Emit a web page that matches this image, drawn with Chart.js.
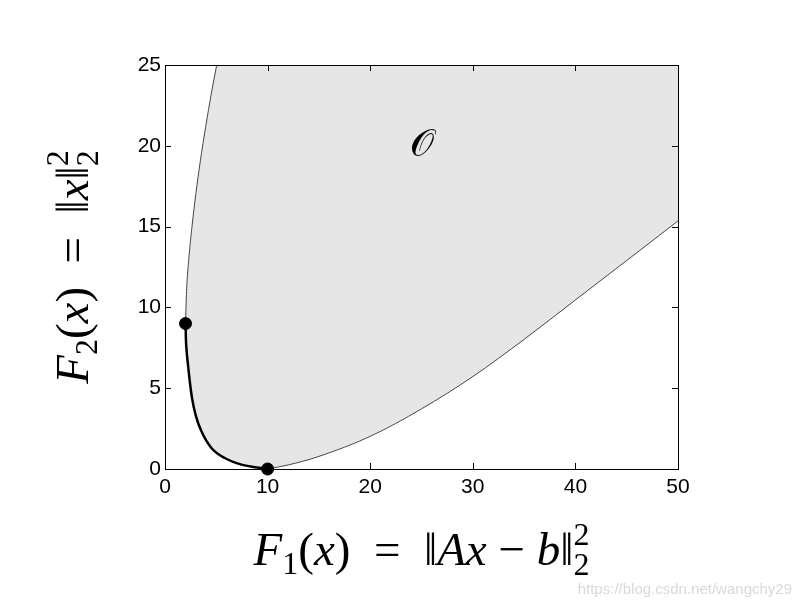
<!DOCTYPE html>
<html>
<head>
<meta charset="utf-8">
<script src="https://cdn.jsdelivr.net/npm/chart.js@4"></script>
<style>
  html, body { margin: 0; padding: 0; background: #fff; }
  #wrap { width: 800px; height: 607px; }
</style>
</head>
<body>
<div id="wrap"><canvas id="objChart"></canvas></div>
<script>
// left boundary of the objective set (top down to the first pareto point)
const leftX = [5.04, 4.52, 3.97, 3.43, 3.0, 2.63, 2.32, 2.1, 2.0];
const leftY = [25, 23.25, 21.2, 19, 17, 15, 13, 11, 9];

// pareto optimal curve
const paretoX = [2.0, 2.04, 2.12, 2.24, 2.42, 2.63, 3.0, 3.55, 4.52, 5.82, 7.45, 10];
const paretoY = [9, 8, 7.2, 6.45, 5.4, 4.4, 3.3, 2.33, 1.3, 0.68, 0.27, 0];

// lower boundary
const lowerX = [10, 12, 15, 20, 25, 30, 35, 40, 45, 50];
const lowerY = [0, 0.25, 0.78, 2.02, 3.72, 5.72, 8.02, 10.46, 12.9, 15.35];

// the two end points of the pareto curve
const endX = [2, 10];
const endY = [9, 0];

const xTicks = [0, 10, 20, 30, 40, 50];
const yTicks = [0, 5, 10, 15, 20, 25];

const setLabel = "\u{1D4AA}";
const setLabelAt = [25, 20];

function toPts(xs, ys) {
    return xs.map((x, i) => ({x: x, y: ys[i]}));
}

// closed region: left curve, pareto curve, lower curve, then top right corner
const regionPts = toPts(leftX, leftY)
    .concat(toPts(paretoX, paretoY).slice(1))
    .concat(toPts(lowerX, lowerY).slice(1))
    .concat([{x: 50, y: 25}]);

const serif = "'Liberation Serif', 'DejaVu Serif', serif";

// draws a list of text pieces along one line, centred on 0
function drawPieces(ctx, pieces) {
    let total = 0;
    pieces.forEach(p => {
        ctx.font = p.font;
        p.w = p.adv !== undefined ? p.adv : ctx.measureText(p.t).width;
        total += p.w;
    });
    let x = -total / 2;
    pieces.forEach(p => {
        ctx.font = p.font;
        ctx.fillText(p.t, x, p.dy || 0);
        x += p.w;
    });
}

function mathPieces(parts) {
    const big = 47;
    const small = 32;
    return parts.map(p => ({
        t: p.t,
        font: (p.i ? "italic " : "") + (p.s ? small : big) + "px " + serif,
        dy: p.dy || 0,
        adv: p.adv
    }));
}

const framePlugin = {
    id: "frameAndTitles",
    afterDatasetsDraw(chart) {
        const ctx = chart.ctx;
        const a = chart.chartArea;
        const xs = chart.scales.x;
        const ys = chart.scales.y;
        ctx.save();
        ctx.strokeStyle = "#000";
        ctx.lineWidth = 1;
        ctx.strokeRect(a.left + 0.5, a.top + 0.5, a.right - a.left, a.bottom - a.top);
        const len = 6;
        ctx.beginPath();
        xTicks.forEach(v => {
            const px = Math.round(xs.getPixelForValue(v)) + 0.5;
            ctx.moveTo(px, a.bottom);
            ctx.lineTo(px, a.bottom - len);
            ctx.moveTo(px, a.top);
            ctx.lineTo(px, a.top + len);
        });
        yTicks.forEach(v => {
            const py = Math.round(ys.getPixelForValue(v)) + 0.5;
            ctx.moveTo(a.left, py);
            ctx.lineTo(a.left + len, py);
            ctx.moveTo(a.right, py);
            ctx.lineTo(a.right - len, py);
        });
        ctx.stroke();

        // set label inside the region
        ctx.fillStyle = "#000";
        ctx.textAlign = "center";
        ctx.textBaseline = "middle";
        ctx.font = "38px " + serif;
        ctx.fillText(setLabel,
            xs.getPixelForValue(setLabelAt[0]),
            ys.getPixelForValue(setLabelAt[1]));

        ctx.textAlign = "left";
        ctx.textBaseline = "alphabetic";

        // x axis title
        ctx.save();
        ctx.translate((a.left + a.right) / 2, 565);
        drawPieces(ctx, mathPieces([
            {t: "F", i: true},
            {t: "1", s: true, dy: 9},
            {t: "("},
            {t: "x", i: true},
            {t: ")  =  \u2016"},
            {t: "Ax", i: true},
            {t: " \u2212 "},
            {t: "b", i: true},
            {t: "\u2016"},
            {t: "2", s: true, dy: -20, adv: 0},
            {t: "2", s: true, dy: 10}
        ]));
        ctx.restore();

        // y axis title
        ctx.save();
        ctx.translate(88, (a.top + a.bottom) / 2);
        ctx.rotate(-Math.PI / 2);
        drawPieces(ctx, mathPieces([
            {t: "F", i: true},
            {t: "2", s: true, dy: 9},
            {t: "("},
            {t: "x", i: true},
            {t: ")  =  \u2016"},
            {t: "x", i: true},
            {t: "\u2016"},
            {t: "2", s: true, dy: -20, adv: 0},
            {t: "2", s: true, dy: 10}
        ]));
        ctx.restore();

        // watermark
        ctx.fillStyle = "#d9d9d9";
        ctx.textAlign = "right";
        ctx.font = "15px 'Liberation Sans', Arial, sans-serif";
        ctx.fillText("https://blog.csdn.net/wangchy29", 792, 594);
        ctx.restore();
    }
};

new Chart(document.getElementById("objChart"), {
    type: "scatter",
    data: {
        datasets: [
            {
                data: regionPts,
                order: 5,
                showLine: true,
                fill: "shape",
                backgroundColor: "rgb(230,230,230)",
                borderWidth: 0,
                pointRadius: 0,
                tension: 0
            },
            {
                data: toPts(leftX, leftY).reverse(),
                order: 3,
                showLine: true,
                borderColor: "#444",
                borderWidth: 1,
                pointRadius: 0,
                cubicInterpolationMode: "monotone"
            },
            {
                data: toPts(lowerX, lowerY),
                order: 3,
                showLine: true,
                borderColor: "#444",
                borderWidth: 1,
                pointRadius: 0,
                cubicInterpolationMode: "monotone"
            },
            {
                data: toPts(paretoX, paretoY),
                order: 2,
                showLine: true,
                borderColor: "#000",
                borderWidth: 2.5,
                pointRadius: 0,
                cubicInterpolationMode: "monotone"
            },
            {
                data: toPts(endX, endY),
                order: 1,
                pointRadius: 6,
                pointHoverRadius: 6,
                backgroundColor: "#000",
                borderColor: "#000",
                clip: false
            }
        ]
    },
    options: {
        responsive: true,
        maintainAspectRatio: false,
        animation: false,
        events: [],
        layout: {
            padding: {left: 0, right: 122, top: 65, bottom: 0}
        },
        plugins: {
            legend: {display: false},
            tooltip: {enabled: false}
        },
        scales: {
            x: {
                type: "linear",
                min: 0,
                max: 50,
                afterFit: s => { s.height = 138; },
                afterBuildTicks: s => { s.ticks = xTicks.map(v => ({value: v})); },
                grid: {display: false, drawTicks: false, tickLength: 0},
                border: {display: false},
                ticks: {
                    color: "#000",
                    padding: 6,
                    maxRotation: 0,
                    font: {family: "'Liberation Sans', Arial, sans-serif", size: 21}
                }
            },
            y: {
                type: "linear",
                min: 0,
                max: 25,
                afterFit: s => { s.width = 165; },
                afterBuildTicks: s => { s.ticks = yTicks.map(v => ({value: v})); },
                grid: {display: false, drawTicks: false, tickLength: 0},
                border: {display: false},
                ticks: {
                    color: "#000",
                    padding: 4,
                    font: {family: "'Liberation Sans', Arial, sans-serif", size: 21}
                }
            }
        }
    },
    plugins: [framePlugin]
});
</script>
</body>
</html>
